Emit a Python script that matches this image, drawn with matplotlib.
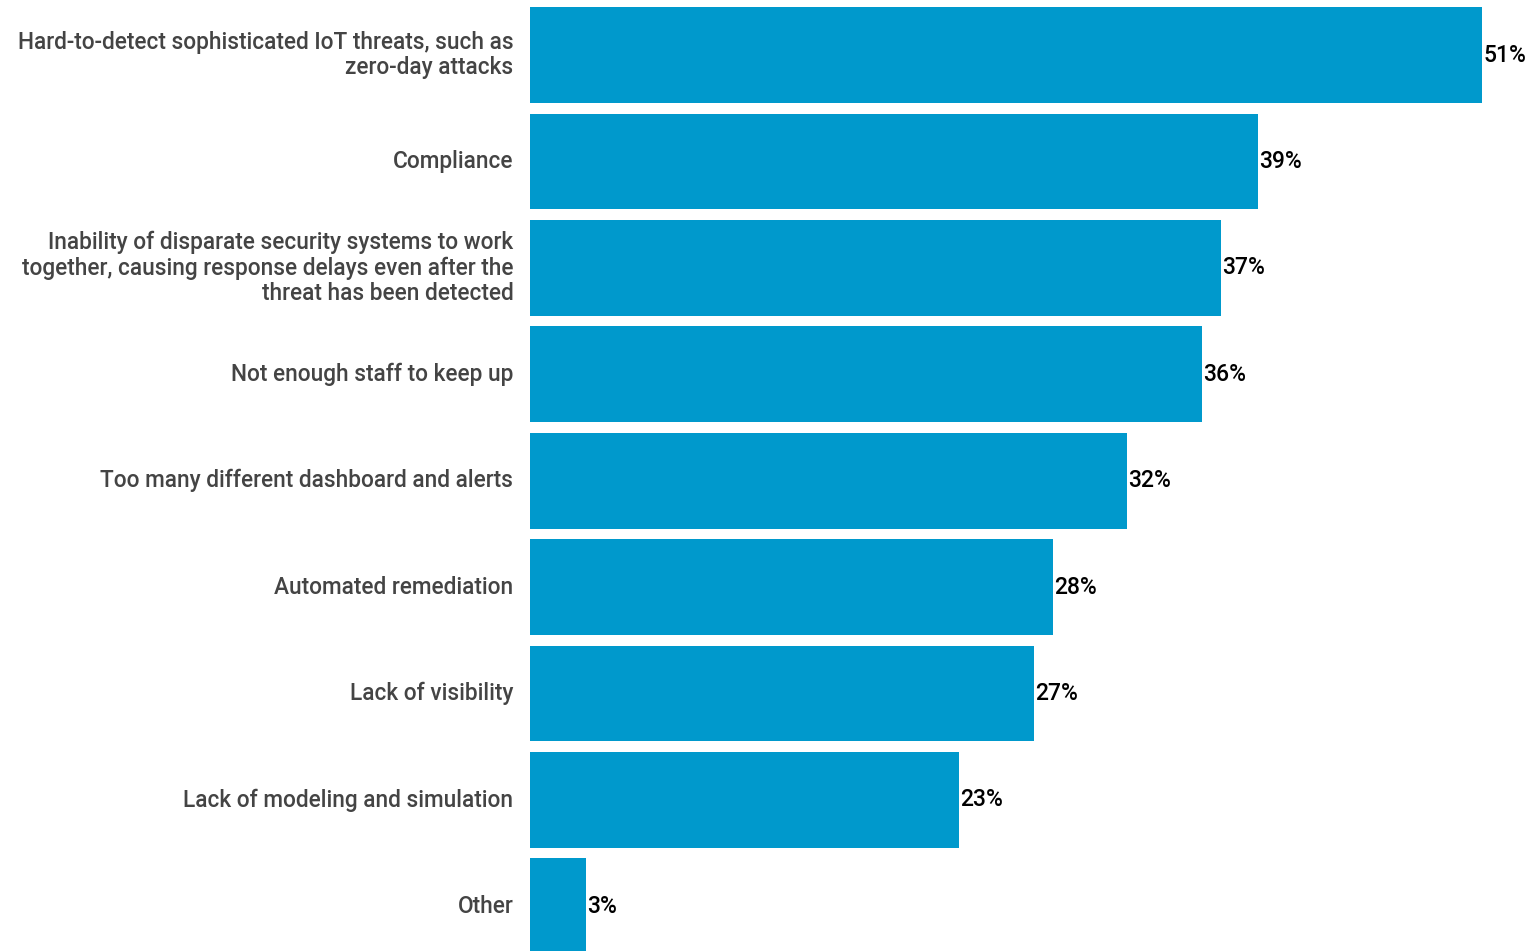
import matplotlib
matplotlib.use('Agg')
import matplotlib.pyplot as plt

categories = [
    'Hard-to-detect sophisticated IoT threats, such as\nzero-day attacks',
    'Compliance',
    'Inability of disparate security systems to work\ntogether, causing response delays even after the\nthreat has been detected',
    'Not enough staff to keep up',
    'Too many different dashboard and alerts',
    'Automated remediation',
    'Lack of visibility',
    'Lack of modeling and simulation',
    'Other',
]
values = [51, 39, 37, 36, 32, 28, 27, 23, 3]
value_labels = ['51%', '39%', '37%', '36%', '32%', '28%', '27%', '23%', '3%']

BAR_COLOR = '#0099CC'
LABEL_COLOR = '#444444'

W, H = 1532, 951
fig = plt.figure(figsize=(W / 100, H / 100), dpi=100)
ax = fig.add_axes([530 / W, 0, 1002 / W, 1])

pos = list(range(len(values)))
ax.barh(pos, values, height=0.9, color=BAR_COLOR, linewidth=0)
ax.set_xlim(0, 1002 / 18.67)
ax.set_ylim(8.42, -0.517)

for p, v, lab in zip(pos, values, value_labels):
    ax.annotate(lab, (v, p), xytext=(0.8, 0), textcoords='offset points',
                ha='left', va='center', fontsize=16.5, family='Roboto',
                fontweight='medium', color='black')

for p, cat in zip(pos, categories):
    ax.annotate(cat, (0, p), xytext=(-12, 0), textcoords='offset points',
                ha='right', va='center', fontsize=16.3, family='Roboto',
                fontweight='medium', color=LABEL_COLOR, linespacing=1.12,
                multialignment='right', annotation_clip=False)

ax.axis('off')
fig.savefig('out.png', dpi=100)
